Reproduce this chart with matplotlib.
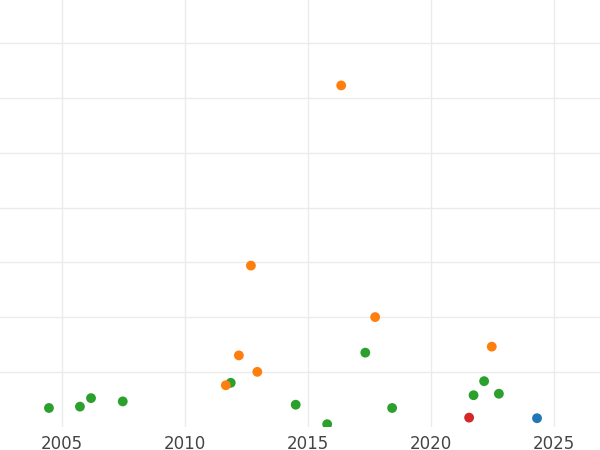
import matplotlib.pyplot as plt

# series (x = year, y = value in gridline units)
green_x = [2004.46, 2005.72, 2006.17, 2007.46, 2011.85, 2014.49, 2015.77,
           2017.32, 2018.41, 2021.72, 2022.15, 2022.75]
green_y = [0.34, 0.365, 0.52, 0.46, 0.80, 0.40, 0.044,
           1.35, 0.34, 0.573, 0.83, 0.60]

orange_x = [2011.65, 2012.18, 2012.67, 2012.93, 2016.34, 2017.72, 2022.46]
orange_y = [0.755, 1.30, 2.94, 1.00, 6.23, 2.00, 1.46]

red_x = [2021.54]
red_y = [0.164]

blue_x = [2024.30]
blue_y = [0.153]

xticks = [2005, 2010, 2015, 2020, 2025]

fig = plt.figure(figsize=(6, 4.5), dpi=100)
ax = fig.add_axes([0, 0.052, 1, 0.948])

for xs, ys, c in [(green_x, green_y, '#2ca02c'),
                  (orange_x, orange_y, '#ff7f0e'),
                  (red_x, red_y, '#d62728'),
                  (blue_x, blue_y, '#1f77b4')]:
    ax.scatter(xs, ys, s=50, color=c, edgecolors='none', zorder=3)

ax.set_xlim(2002.47, 2026.86)
ax.set_ylim(0, 7.79)
ax.set_xticks(xticks)
ax.set_yticks(range(1, 8))
ax.set_yticklabels([])
ax.grid(True, color='#ebebeb', linewidth=1)
ax.set_axisbelow(True)
ax.tick_params(length=0, labelsize=12, labelcolor='#444444', pad=6)
for s in ax.spines.values():
    s.set_visible(False)

fig.savefig('out.png', dpi=100)
